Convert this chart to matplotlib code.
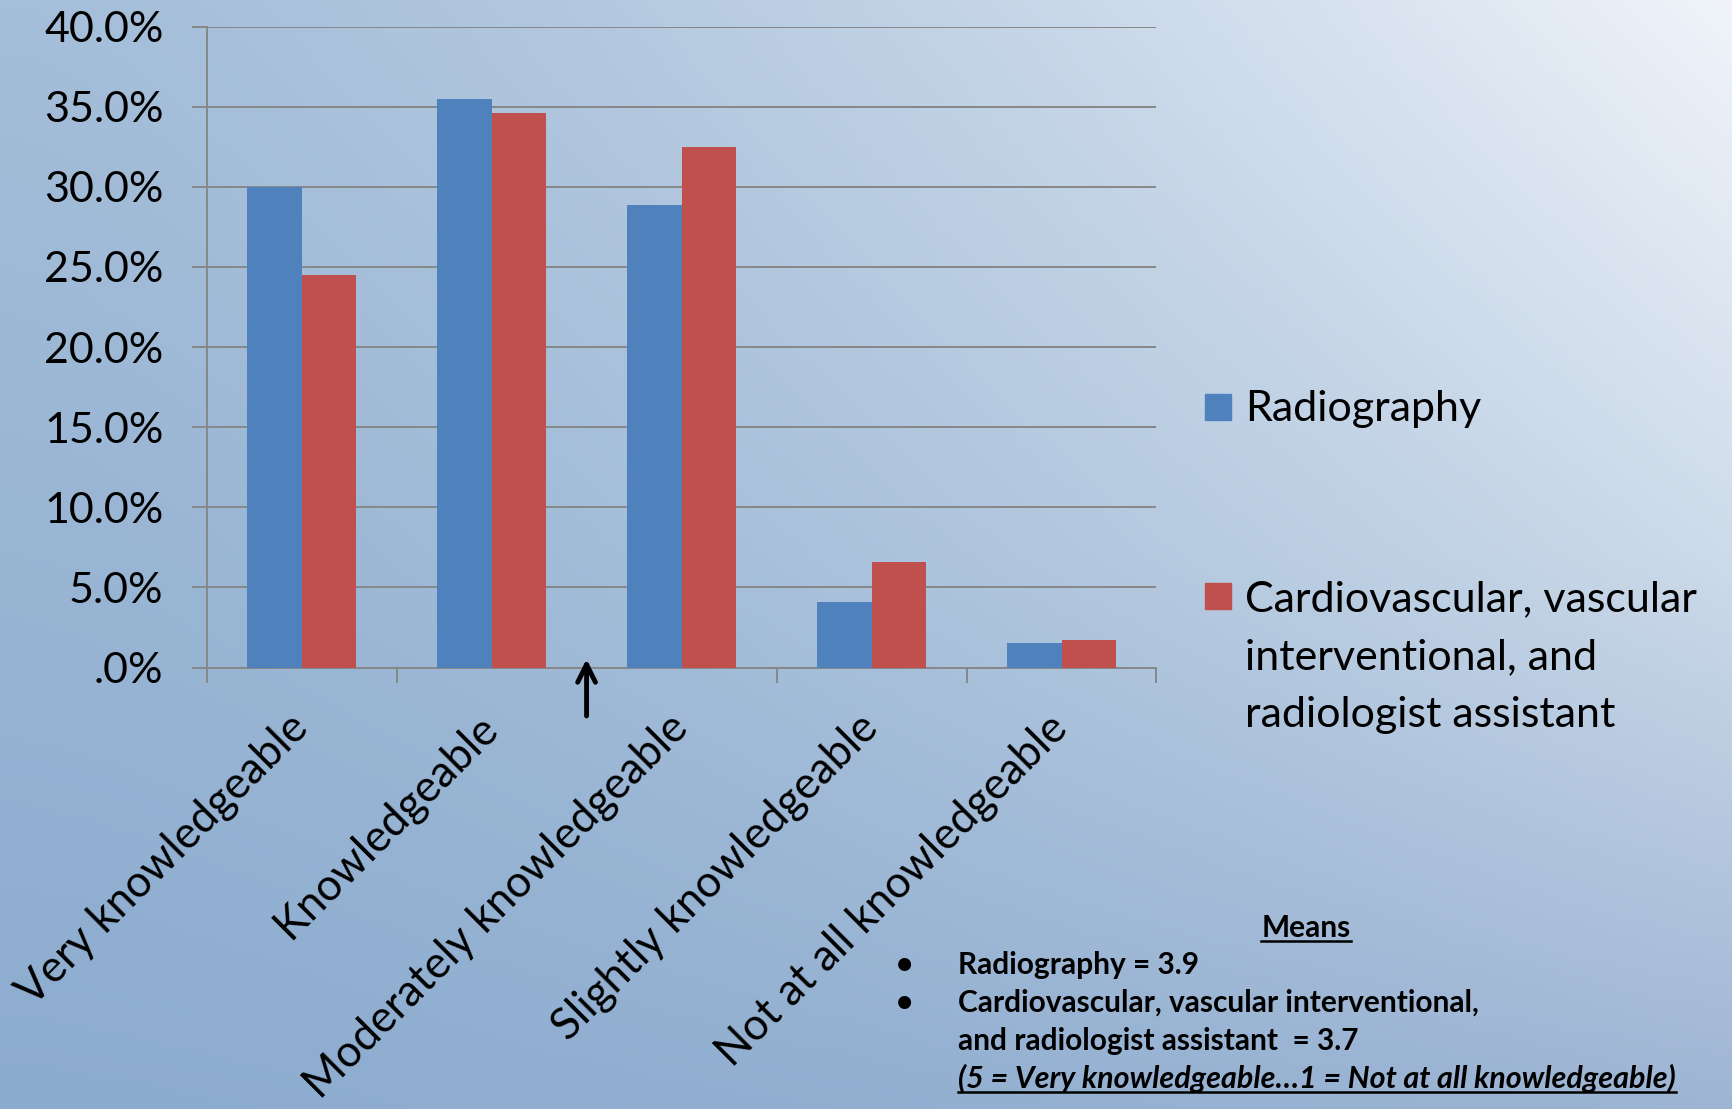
import matplotlib
matplotlib.use('Agg')
import matplotlib.pyplot as plt
import numpy as np
from matplotlib.patches import Rectangle
from matplotlib.lines import Line2D
from matplotlib.ticker import FixedLocator

# Survey data
categories = ['Very knowledgeable', 'Knowledgeable', 'Moderately knowledgeable',
              'Slightly knowledgeable', 'Not at all knowledgeable']
radiography = [30.0, 35.5, 28.9, 4.1, 1.5]
cardio = [24.5, 34.6, 32.5, 6.6, 1.7]
series_names = ['Radiography',
                'Cardiovascular, vascular\ninterventional, and\nradiologist assistant']
y_ticks = [0, 5, 10, 15, 20, 25, 30, 35, 40]
y_labels = ['.0%', '5.0%', '10.0%', '15.0%', '20.0%', '25.0%', '30.0%', '35.0%', '40.0%']
mean_lines = ['Radiography = 3.9',
              'Cardiovascular, vascular interventional,',
              'and radiologist assistant  = 3.7']
scale_note = '(5 = Very knowledgeable\u20261 = Not at all knowledgeable)'

BLUE = '#4f81bd'
RED = '#c0504d'
GRID = '#878787'
FONT = 'Lato'

W, H = 1732, 1109
fig = plt.figure(figsize=(W / 100, H / 100), dpi=100)

# slide background: bluish, fading to near white at the top right
bg = fig.add_axes([0, 0, 1, 1], zorder=-10)
yy, xx = np.mgrid[0:1:200j, 0:1:300j]
left_top = np.array([165, 190, 217]) / 255
left_bot = np.array([140, 172, 207]) / 255
right_top = np.array([240, 244, 250]) / 255
right_mid = np.array([205, 219, 234]) / 255
right_bot = np.array([158, 181, 212]) / 255
v = yy[..., None]
left = left_top + (left_bot - left_top) * v
right = np.where(v < 0.5,
                 right_top + (right_mid - right_top) * (v / 0.5),
                 right_mid + (right_bot - right_mid) * ((v - 0.5) / 0.5))
t = (xx ** 1.5)[..., None]
img = left * (1 - t) + right * t
bg.imshow(np.clip(img, 0, 1), aspect='auto', extent=[0, 1, 0, 1], origin='upper')
bg.set_axis_off()

ax = fig.add_axes([206.6 / W, 1 - 667.5 / H, (1156.5 - 206.6) / W, (667.5 - 26.7) / H])
ax.set_facecolor('none')

x = np.arange(len(categories))
bw = 1 / 3.5
ax.bar(x - bw / 2, radiography, bw, color=BLUE, zorder=3)
ax.bar(x + bw / 2, cardio, bw, color=RED, zorder=3)

ax.set_xlim(-0.5, len(categories) - 0.5)
ax.set_ylim(0, 40)
ax.set_yticks(y_ticks)
ax.set_yticklabels(y_labels, fontsize=31, family=FONT)
ax.yaxis.grid(True, color=GRID, lw=1.4, zorder=0)
ax.set_axisbelow(True)

# category boundaries carry the tick marks, labels sit on the centres
ax.xaxis.set_major_locator(FixedLocator(np.arange(-0.5, len(categories), 1.0)))
ax.xaxis.set_major_formatter(plt.NullFormatter())
ax.xaxis.set_minor_locator(FixedLocator(x))
ax.set_xticklabels(categories, minor=True, fontsize=31.5, family=FONT,
                   rotation=45, ha='right', va='center', rotation_mode='anchor')
ax.tick_params(axis='x', which='minor', length=0, pad=39)
ax.tick_params(axis='x', which='major', length=11, width=1.4, color=GRID)
ax.tick_params(axis='y', length=11, width=1.4, color=GRID, pad=20)

for side in ['top', 'right']:
    ax.spines[side].set_visible(False)
for side in ['left', 'bottom']:
    ax.spines[side].set_color(GRID)
    ax.spines[side].set_linewidth(1.4)

# arrow marking the scale midpoint
ax.annotate('', xy=(1.5, 0.7), xytext=(1.5, -3.2), annotation_clip=False,
            arrowprops=dict(arrowstyle='->', lw=3.5, color='black', mutation_scale=32))

# legend drawn by hand on the right
def px(xp, yp):
    return xp / W, 1 - yp / H

for (y0, col) in [(394, BLUE), (583, RED)]:
    fig.patches.append(Rectangle(px(1205, y0 + 26), 26 / W, 26 / H,
                                 transform=fig.transFigure, color=col))
fig.text(*px(1245, 421), series_names[0], fontsize=31, family=FONT, va='baseline')
for i, line in enumerate(series_names[1].split('\n')):
    fig.text(*px(1245, 611 + 58 * i), line, fontsize=31, family=FONT, va='baseline')

# means box
underlined = []
t_means = fig.text(*px(1306, 937), 'Means', fontsize=21.5, family=FONT,
                   weight='bold', ha='center', va='baseline')
underlined.append(t_means)
base = [974, 1012, 1050]
for i, line in enumerate(mean_lines):
    if i < 2:
        fig.text(*px(904, base[i]), '\u2022', fontsize=21.5, family=FONT,
                 weight='bold', ha='center', va='baseline')
    fig.text(*px(958, base[i]), line, fontsize=21.5, family=FONT,
             weight='bold', va='baseline')
t_note = fig.text(*px(958, 1088), scale_note, fontsize=22, family=FONT,
                  weight='bold', style='italic', va='baseline')
underlined.append(t_note)

fig.canvas.draw()
r = fig.canvas.get_renderer()
for txt in underlined:
    bb = txt.get_window_extent(r)
    ybase = txt.get_position()[1] * H - 4
    fig.lines.append(Line2D([bb.x0 / W, bb.x1 / W], [ybase / H, ybase / H],
                            transform=fig.transFigure, color='black', lw=1.8))

fig.savefig('out.png', dpi=100)
